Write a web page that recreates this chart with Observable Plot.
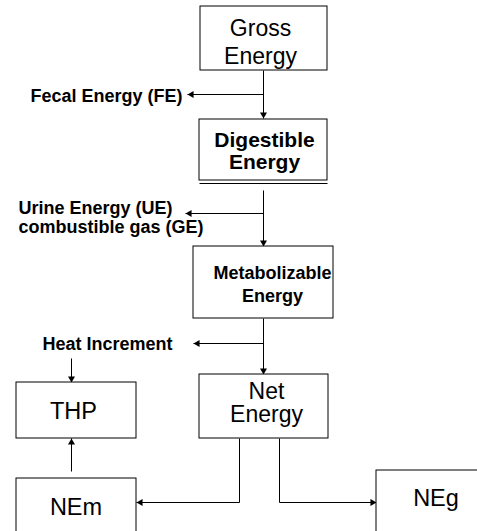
<!DOCTYPE html>
<html><head><meta charset="utf-8">
<script src="https://cdn.jsdelivr.net/npm/d3@7"></script>
<script src="https://cdn.jsdelivr.net/npm/@observablehq/plot@0.6"></script>
<style>body{margin:0;background:#fff} svg{display:block}</style>
</head><body><div id="chart"></div>
<script>
// ---- content ----
const boxIds = ["GE", "DE", "ME", "NE", "THP", "NEm", "NEg"];
const boxLines = [["Gross", "Energy"], ["Digestible", "Energy"], ["Metabolizable", "Energy"], ["Net", "Energy"], ["THP"], ["NEm"], ["NEg"]];
const boxBold = [false, true, true, false, false, false, false];
const lossLabels = [["Fecal Energy (FE)"], ["Urine Energy (UE)", "combustible gas (GE)"], ["Heat Increment"]];

// ---- layout (diagram geometry, pixels) ----
const boxX1 = [200, 199, 193, 199, 16, 16, 376];
const boxX2 = [327, 327, 333, 328, 136, 136, 500];
const boxY1 = [6, 119, 246, 374, 382, 478, 470];
const boxY2 = [70, 180, 318, 438, 438, 560, 560];
const textX = [260, 264, 272, 266, 73, 75.5, 435.5];
const textBase = [[35, 63], [146, 168], [278, 301], [398, 421.5], [418], [514], [505]];
const textSize = [23, 21, 18, 23, 23.5, 23.5, 23.5];

const lossX = [182, 18, 42];
const lossAnchor = ["end", "start", "start"];
const lossBase = [[101], [213, 232], [349]];

// connector segments: [x1, y1, x2, y2, arrowhead at end?]
const segments = [
  [263, 70, 263, 118, true],   // GE -> DE
  [263, 94, 187, 94, true],    // -> Fecal
  [263, 190, 263, 246, true],  // DE -> ME
  [263, 213, 185, 213, true],  // -> Urine / gas
  [263, 318, 263, 374, true],  // ME -> NE
  [263, 343, 193, 343, true],  // -> Heat increment
  [71, 358, 71, 382, true],    // HI -> THP
  [71, 471, 71, 438, true],    // NEm -> THP
  [239, 438, 239, 502, false], // NE -> NEm
  [239, 502, 136, 502, true],
  [279, 438, 279, 502, false], // NE -> NEg
  [279, 502, 376, 502, true]
];

// ---- build tables ----
const boxes = boxIds.map((id, i) => ({id, x1: boxX1[i], x2: boxX2[i], y1: boxY1[i], y2: boxY2[i]}));
const boxTexts = [];
boxLines.forEach((lines, i) => lines.forEach((t, j) => boxTexts.push({text: t, x: textX[i], y: textBase[i][j], size: textSize[i], bold: boxBold[i]})));
const lossTexts = [];
lossLabels.forEach((lines, i) => lines.forEach((t, j) => lossTexts.push({text: t, x: lossX[i], y: lossBase[i][j], anchor: lossAnchor[i]})));
const links = segments.map(([x1, y1, x2, y2, head]) => ({x1, y1, x2, y2, head}));
const R = 2.6;
const tipOff = 2 * Math.sqrt(Math.PI * R * R / (Math.sqrt(3) * 3));
const heads = links.filter(d => d.head).map(d => {
  const dx = Math.sign(d.x2 - d.x1), dy = Math.sign(d.y2 - d.y1);
  const rot = dx > 0 ? 90 : dx < 0 ? 270 : dy > 0 ? 180 : 0;
  return {x: d.x2 - dx * tipOff, y: d.y2 - dy * tipOff, rot};
});

const font = "'Liberation Sans', Arial, Helvetica, sans-serif";
const chart = Plot.plot({
  width: 477, height: 531, margin: 0,
  x: {domain: [0, 477], range: [0, 477], axis: null},
  y: {domain: [0, 531], range: [0, 531], axis: null},
  style: {background: "white", fontFamily: font},
  marks: [
    Plot.link(links, {x1: "x1", y1: "y1", x2: "x2", y2: "y2", stroke: "black", strokeWidth: 1}),
    Plot.dot(heads, {x: "x", y: "y", rotate: "rot", symbol: "triangle", r: R, fill: "black", stroke: "none"}),
    Plot.rect(boxes, {x1: "x1", x2: "x2", y1: "y1", y2: "y2", fill: "white", stroke: "black", strokeWidth: 1}),
    Plot.link([{x1: 199, x2: 327, y: 183}], {x1: "x1", x2: "x2", y1: "y", y2: "y", stroke: "black", strokeWidth: 1}),
    Plot.text(boxTexts.filter(d => !d.bold), {x: "x", y: "y", text: "text", fontSize: "size", textAnchor: "middle", lineAnchor: "bottom", fill: "black"}),
    Plot.text(boxTexts.filter(d => d.bold), {x: "x", y: "y", text: "text", fontSize: "size", fontWeight: "bold", textAnchor: "middle", lineAnchor: "bottom", fill: "black"}),
    Plot.text(lossTexts.filter(d => d.anchor === "end"), {x: "x", y: "y", text: "text", fontSize: 18, fontWeight: "bold", textAnchor: "end", lineAnchor: "bottom", fill: "black"}),
    Plot.text(lossTexts.filter(d => d.anchor === "start"), {x: "x", y: "y", text: "text", fontSize: 18, fontWeight: "bold", textAnchor: "start", lineAnchor: "bottom", fill: "black"})
  ]
});
document.getElementById("chart").appendChild(chart);
</script>
</body></html>
